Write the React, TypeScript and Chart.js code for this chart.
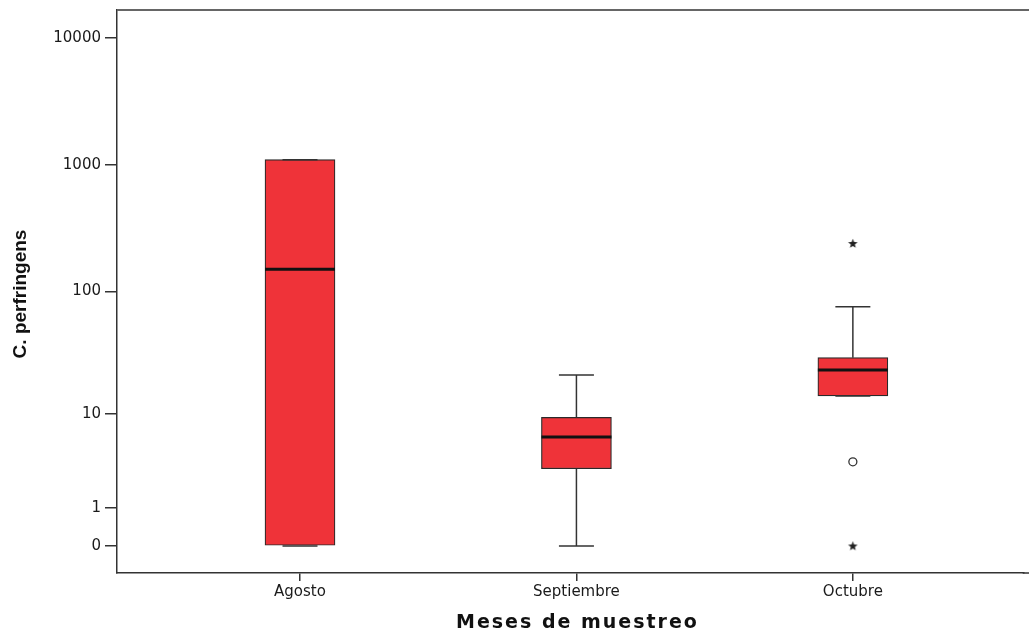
import React, { useEffect, useRef } from "react";
import { Chart, registerables } from "chart.js";

Chart.register(...registerables);

// ---- data (raw units, plotted on a log10(x+1) axis) ----
const categories = ["Agosto", "Septiembre", "Octubre"];
const mins = [0, 0, 14.2];
const q1s = [0, 3.06, 14.2];
const medians = [150, 6.2, 23.3];
const q3s = [1100, 9.3, 29.4];
const maxs = [1100, 21.2, 75.6];
// outliers: [categoryIndex, value]
const circleOutliers: [number, number][] = [[2, 3.6]];
const starOutliers: [number, number][] = [[2, 240], [2, 0]];
const yTickValues = [0, 1, 10, 100, 1000, 10000];

const tr = (v: number) => Math.log10(v + 1);

const BOX_HALF = 0.1266;
const CAP_HALF = 0.0633;

function makeStar(): HTMLCanvasElement {
  const c = document.createElement("canvas");
  c.width = 11;
  c.height = 11;
  const ctx = c.getContext("2d")!;
  ctx.fillStyle = "#222";
  ctx.beginPath();
  const cx = 5.5, cy = 5.8, ro = 5, ri = 2.1;
  for (let k = 0; k < 10; k++) {
    const r = k % 2 === 0 ? ro : ri;
    const a = -Math.PI / 2 + (k * Math.PI) / 5;
    const px = cx + r * Math.cos(a);
    const py = cy + r * Math.sin(a);
    if (k === 0) ctx.moveTo(px, py);
    else ctx.lineTo(px, py);
  }
  ctx.closePath();
  ctx.fill();
  return c;
}

export default function App() {
  const ref = useRef<HTMLCanvasElement | null>(null);

  useEffect(() => {
    document.body.style.margin = "0";
    const canvas = ref.current;
    if (!canvas) return;

    const upperWhiskers: any[] = [];
    const lowerWhiskers: any[] = [];
    const caps: any[] = [];
    const medianLines: any[] = [];
    categories.forEach((_, i) => {
      upperWhiskers.push({ x: i, y: tr(q3s[i]) }, { x: i, y: tr(maxs[i]) }, { x: i, y: null });
      lowerWhiskers.push({ x: i, y: tr(q1s[i]) }, { x: i, y: tr(mins[i]) }, { x: i, y: null });
      caps.push({ x: i - CAP_HALF, y: tr(maxs[i]) }, { x: i + CAP_HALF, y: tr(maxs[i]) }, { x: i, y: null });
      caps.push({ x: i - CAP_HALF, y: tr(mins[i]) }, { x: i + CAP_HALF, y: tr(mins[i]) }, { x: i, y: null });
      medianLines.push({ x: i - BOX_HALF, y: tr(medians[i]) }, { x: i + BOX_HALF, y: tr(medians[i]) }, { x: i, y: null });
    });

    const starImg = makeStar();

    const titlesPlugin = {
      id: "titles",
      afterDraw(chart: any) {
        const { ctx, chartArea, width } = chart;
        ctx.save();
        ctx.strokeStyle = "#666";
        ctx.lineWidth = 2;
        ctx.beginPath();
        ctx.moveTo(chartArea.left, chartArea.top);
        ctx.lineTo(width, chartArea.top);
        ctx.stroke();
        ctx.strokeStyle = "#333";
        ctx.lineWidth = 1.5;
        ctx.beginPath();
        ctx.moveTo(chartArea.right - 1, chartArea.bottom);
        ctx.lineTo(width, chartArea.bottom);
        ctx.stroke();
        ctx.fillStyle = "#111";
        ctx.font = "bold 19px 'DejaVu Sans'";
        (ctx as any).letterSpacing = "2px";
        ctx.textAlign = "center";
        ctx.textBaseline = "alphabetic";
        ctx.fillText("Meses de muestreo", chart.scales.x.getPixelForValue(1) + 1, 628);
        (ctx as any).letterSpacing = "0px";
        ctx.translate(26, 294);
        ctx.rotate(-Math.PI / 2);
        ctx.font = "bold 19px 'Liberation Sans'";
        ctx.fillText("C. perfringens", 0, 0);
        ctx.restore();
      },
    };

    const lineCommon = {
      type: "line" as const,
      pointRadius: 0,
      pointHoverRadius: 0,
      spanGaps: false,
      fill: false,
      borderColor: "#333",
      borderWidth: 1.5,
    };

    const chart = new Chart(canvas, {
      type: "bar",
      data: {
        datasets: [
          {
            type: "bar",
            data: categories.map((_, i) => ({ x: i, y: [tr(q1s[i]), tr(q3s[i])] })) as any,
            backgroundColor: "#EF3339",
            borderColor: "#2a2a2a",
            borderWidth: 1.2,
            borderSkipped: false,
            barThickness: 70,
            order: 3,
          } as any,
          { ...lineCommon, data: upperWhiskers, order: 2 } as any,
          { ...lineCommon, data: lowerWhiskers, order: 2 } as any,
          { ...lineCommon, data: caps, order: 1 } as any,
          { ...lineCommon, data: medianLines, borderColor: "#111", borderWidth: 3, order: 0 } as any,
          {
            type: "scatter",
            data: circleOutliers.map(([i, v]) => ({ x: i, y: tr(v) })),
            pointStyle: "circle",
            pointRadius: 4,
            backgroundColor: "#fff",
            borderColor: "#333",
            borderWidth: 1.3,
            order: 0,
          } as any,
          {
            type: "scatter",
            data: starOutliers.map(([i, v]) => ({ x: i, y: tr(v) })),
            pointStyle: starImg,
            order: 0,
          } as any,
        ],
      },
      options: {
        animation: false,
        responsive: false,
        maintainAspectRatio: false,
        layout: { padding: { top: 10, right: 1, left: 0, bottom: 0 } },
        plugins: { legend: { display: false }, tooltip: { enabled: false } },
        scales: {
          x: {
            type: "linear",
            min: -0.662,
            max: 2.618,
            offset: false,
            afterFit: (s: any) => {
              s.height = 64;
              s.paddingLeft = 0;
              s.paddingRight = 0;
            },
            afterBuildTicks: (s: any) => { s.ticks = categories.map((_, i) => ({ value: i })); },
            ticks: {
              callback: (v: any) => categories[v as number] ?? "",
              color: "#1a1a1a",
              font: { family: "'DejaVu Sans'", size: 15 },
              padding: 2,
              maxRotation: 0,
              autoSkip: false,
            },
            grid: { display: true, drawOnChartArea: false, tickLength: 8, color: "#333", lineWidth: 1.5, offset: false },
            border: { display: true, color: "#333", width: 1.5 },
          } as any,
          y: {
            type: "linear",
            min: -0.2126,
            max: 4.2205,
            afterFit: (s: any) => {
              s.width = 117;
              s.paddingTop = 0;
              s.paddingBottom = 0;
            },
            afterBuildTicks: (s: any) => { s.ticks = yTickValues.map((v) => ({ value: tr(v) })); },
            ticks: {
              callback: (v: any) => {
                const idx = yTickValues.findIndex((t) => Math.abs(tr(t) - (v as number)) < 1e-6);
                return idx >= 0 ? String(yTickValues[idx]) : "";
              },
              color: "#1a1a1a",
              font: { family: "'DejaVu Sans'", size: 15 },
              padding: 4,
              autoSkip: false,
            },
            grid: { display: true, drawOnChartArea: false, tickLength: 12, color: "#333", lineWidth: 1.5 },
            border: { display: true, color: "#333", width: 1.5 },
          } as any,
        },
      },
      plugins: [titlesPlugin],
    });

    return () => chart.destroy();
  }, []);

  return (
    <div style={{ width: 1029, height: 637, background: "#fff" }}>
      <canvas ref={ref} width={1029} height={637} style={{ display: "block" }} />
    </div>
  );
}
